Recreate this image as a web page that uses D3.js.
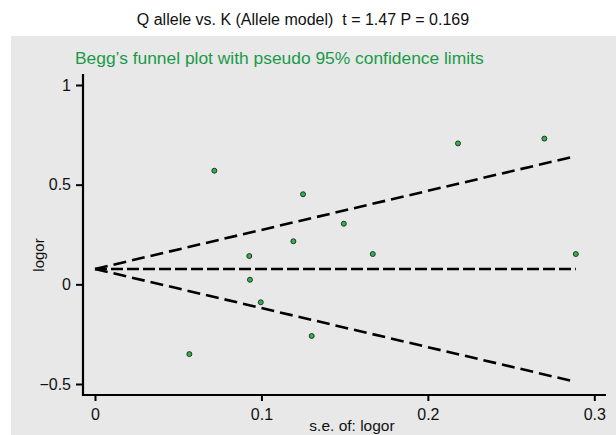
<!DOCTYPE html>
<html>
<head>
<meta charset="utf-8">
<script src="https://cdn.jsdelivr.net/npm/d3@7"></script>
<style>
  body { margin: 0; background: #fff; }
  text { font-family: "Liberation Sans", Arial, sans-serif; white-space: pre; }
</style>
</head>
<body>
<svg width="616" height="435"></svg>
<script>
// study standard errors and log odds ratios
var se = [0.0717, 0.125, 0.1495, 0.1192, 0.0927, 0.1669, 0.0931, 0.0996, 0.1302, 0.2181, 0.270, 0.2889, 0.0567];
var logor = [0.570, 0.452, 0.304, 0.216, 0.142, 0.152, 0.023, -0.090, -0.259, 0.707, 0.731, 0.152, -0.350];
var pooled = [0.077];
var xTicks = [0, 0.1, 0.2, 0.3];
var yTicks = [-0.5, 0, 0.5, 1];

var svg = d3.select("svg");

svg.append("rect")
  .attr("x", 11).attr("y", 36)
  .attr("width", 605).attr("height", 399)
  .attr("fill", "#e8e8e8");

svg.append("text")
  .attr("x", 303).attr("y", 25)
  .attr("text-anchor", "middle")
  .attr("font-size", 16)
  .attr("fill", "#111")
  .text("Q allele vs. K (Allele model)  t = 1.47 P = 0.169");

svg.append("text")
  .attr("x", 75).attr("y", 64)
  .attr("font-size", 17.4)
  .attr("fill", "#1a9a48")
  .text("Begg\u2019s funnel plot with pseudo 95% confidence limits");

var x = d3.scaleLinear().domain([0, 0.3]).range([95, 594.3]);
var y = d3.scaleLinear().domain([-0.5, 1]).range([384, 85]);

// axes
var xAxis = svg.append("g")
  .attr("transform", "translate(0,395)")
  .call(d3.axisBottom(x).tickValues(xTicks).tickSize(6).tickFormat(d => d === 0 ? "0" : d3.format(".1f")(d)));
xAxis.select(".domain").attr("d", "M83,0H606").attr("stroke-width", 2.2).attr("stroke", "#000");
xAxis.selectAll(".tick line").attr("stroke-width", 2).attr("stroke", "#000");
xAxis.selectAll(".tick text").attr("font-size", 16).attr("font-family", "Liberation Sans, Arial, sans-serif").attr("fill", "#111").attr("y", 11).attr("dy", "0.9em");

var yAxis = svg.append("g")
  .attr("transform", "translate(83,0)")
  .call(d3.axisLeft(y).tickValues(yTicks).tickSize(7).tickFormat(d => d === 0 ? "0" : d === 1 ? "1" : d3.format(".1f")(d).replace("-", "\u2212")));
yAxis.select(".domain").attr("d", "M0,74V396").attr("stroke-width", 2.2).attr("stroke", "#000");
yAxis.selectAll(".tick line").attr("stroke-width", 2).attr("stroke", "#000");
yAxis.selectAll(".tick text").attr("font-size", 16).attr("font-family", "Liberation Sans, Arial, sans-serif").attr("fill", "#111").attr("x", -12);

svg.append("text")
  .attr("transform", "translate(44,255) rotate(-90)")
  .attr("text-anchor", "middle")
  .attr("font-size", 15)
  .attr("fill", "#111")
  .text("logor");

svg.append("text")
  .attr("x", 352).attr("y", 431)
  .attr("text-anchor", "middle")
  .attr("font-size", 15.5)
  .attr("fill", "#111")
  .text("s.e. of: logor");

// funnel lines
var maxSe = d3.max(se);
var b = pooled[0];
var lines = [
  [[0, b], [maxSe, b + 1.96 * maxSe]],
  [[0, b], [maxSe, b]],
  [[0, b], [maxSe, b - 1.96 * maxSe]]
];
var line = d3.line().x(d => x(d[0])).y(d => y(d[1]));
svg.selectAll(".funnel")
  .data(lines)
  .enter().append("path")
  .attr("class", "funnel")
  .attr("d", line)
  .attr("fill", "none")
  .attr("stroke", "#000")
  .attr("stroke-width", 2.6)
  .attr("stroke-dasharray", (d, i) => i === 1 ? "12,4" : "13,6");

// studies
svg.selectAll(".pt")
  .data(se.map((s, i) => [s, logor[i]]))
  .enter().append("circle")
  .attr("class", "pt")
  .attr("cx", d => x(d[0]))
  .attr("cy", d => y(d[1]))
  .attr("r", 2.5)
  .attr("fill", "#2db54a")
  .attr("stroke", "#222")
  .attr("stroke-width", 0.9);
</script>
</body>
</html>
